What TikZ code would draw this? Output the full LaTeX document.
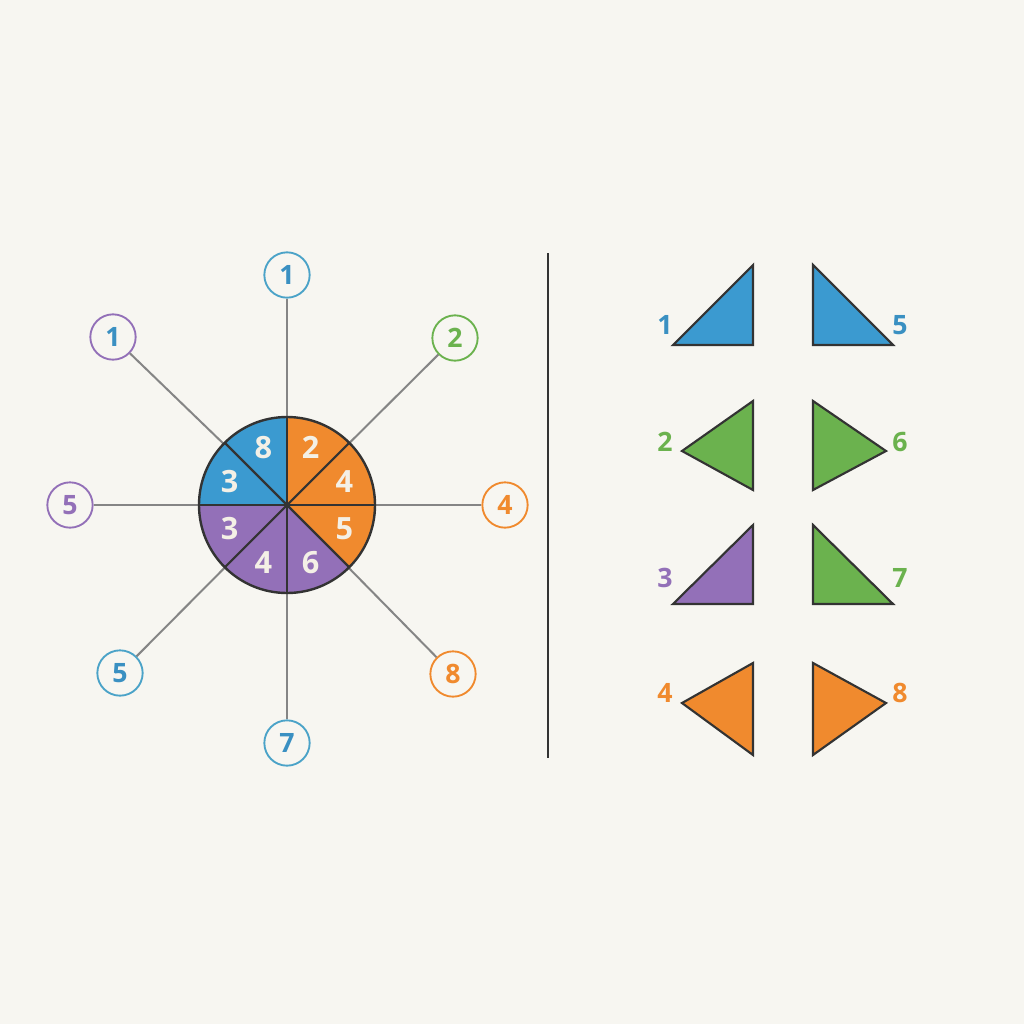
\documentclass[tikz,border=0pt]{standalone}
\usepackage{fontspec}
\setmainfont{Open Sans}
\definecolor{bg}{HTML}{F7F6F1}
\definecolor{pblue}{HTML}{3B9AD0}
\definecolor{rblue}{HTML}{4BA3C8}
\definecolor{tblue}{HTML}{3A90C2}
\definecolor{porange}{HTML}{F08A2E}
\definecolor{ppurple}{HTML}{9370B8}
\definecolor{pgreen}{HTML}{6BB24E}
\definecolor{dark}{HTML}{333333}
\definecolor{spk}{HTML}{858585}
\definecolor{ptext}{HTML}{F4F0E6}
\tikzset{
  ring/.style={circle,draw=#1,line width=1.4pt,fill=bg,minimum size=34pt,inner sep=0pt,font=\bfseries\fontsize{20}{20}\selectfont},
  spoke/.style={draw=spk,line width=1.5pt},
  tri/.style={draw=dark,line width=1.6pt,line join=miter},
  tlabel/.style={font=\bfseries\fontsize{20}{20}\selectfont,inner sep=0pt},
  plabel/.style={text=ptext,font=\bfseries\fontsize{23}{23}\selectfont,inner sep=0pt},
}
\begin{document}
\begin{tikzpicture}[x=0.75pt,y=-0.75pt]
\fill[bg] (0,0) rectangle (1024,1024);
\useasboundingbox (0,0) rectangle (1024,1024);
\coordinate (c) at (287,505);
% outer numbered circles
\node[ring=rblue,text=tblue] (o1) at (287,275) {1};
\node[ring=ppurple,text=tblue] (o2) at (113,337) {1};
\node[ring=pgreen,text=pgreen] (o3) at (455,338) {2};
\node[ring=ppurple,text=ppurple] (o4) at (70,505) {5};
\node[ring=porange,text=porange] (o5) at (505,505) {4};
\node[ring=rblue,text=tblue] (o6) at (120,673) {5};
\node[ring=rblue,text=tblue] (o7) at (287,743) {7};
\node[ring=porange,text=porange] (o8) at (453,674) {8};
% spokes
\foreach \o in {o1,o2,o3,o4,o5,o6,o7,o8} \draw[spoke] (c) -- (\o);
% pie
\begin{scope}[shift={(c)},yscale=-1]
  \fill[pblue] (0,0) -- (90:88) arc[start angle=90,end angle=180,radius=88] -- cycle;
  \fill[porange] (0,0) -- (-45:88) arc[start angle=-45,end angle=90,radius=88] -- cycle;
  \fill[ppurple] (0,0) -- (180:88) arc[start angle=180,end angle=315,radius=88] -- cycle;
  \foreach \a in {0,45,90,135} \draw[dark,line width=1.6pt] (\a:88) -- (\a+180:88);
  \draw[dark,line width=1.8pt] (0,0) circle[radius=88];
  \node[plabel] (s8) at (112.5:62) {8};
  \node[plabel] (s3a) at (157.5:62) {3};
  \node[plabel] (s3b) at (202.5:62) {3};
  \node[plabel] (s4a) at (247.5:62) {4};
  \node[plabel] (s6) at (292.5:62) {6};
  \node[plabel] (s5) at (337.5:62) {5};
  \node[plabel] (s4b) at (22.5:62) {4};
  \node[plabel] (s2) at (67.5:62) {2};
\end{scope}
% divider
\draw[dark,line width=1.5pt] (548,253) -- (548,758);
% triangles
\draw[tri,fill=pblue] (673,345) -- (753,265) -- (753,345) -- cycle;
\draw[tri,fill=pblue] (813,265) -- (813,345) -- (893,345) -- cycle;
\draw[tri,fill=pgreen] (753,401) -- (682,451) -- (753,490) -- cycle;
\draw[tri,fill=pgreen] (813,401) -- (813,490) -- (886,451) -- cycle;
\draw[tri,fill=ppurple] (673,604) -- (753,525) -- (753,604) -- cycle;
\draw[tri,fill=pgreen] (813,525) -- (813,604) -- (893,604) -- cycle;
\draw[tri,fill=porange] (753,663) -- (682,703) -- (753,755) -- cycle;
\draw[tri,fill=porange] (813,663) -- (813,755) -- (886,703) -- cycle;
% triangle labels
\node[tlabel,text=tblue] (l1) at (665,325) {1};
\node[tlabel,text=tblue] (l5) at (900,325) {5};
\node[tlabel,text=pgreen] (l2) at (665,442) {2};
\node[tlabel,text=pgreen] (l6) at (900,442) {6};
\node[tlabel,text=ppurple] (l3) at (665,578) {3};
\node[tlabel,text=pgreen] (l7) at (900,578) {7};
\node[tlabel,text=porange] (l4) at (665,693) {4};
\node[tlabel,text=porange] (l8) at (900,693) {8};
\end{tikzpicture}
\end{document}
